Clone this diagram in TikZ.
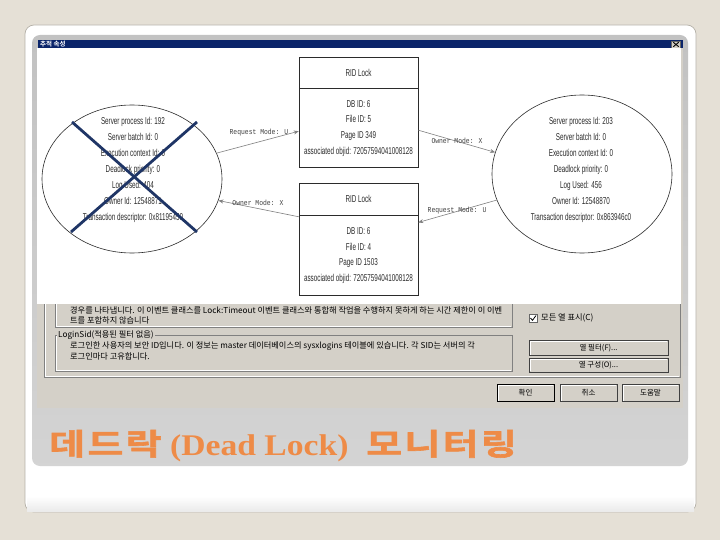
\documentclass[tikz,border=0pt]{standalone}
\usepackage{fontspec}
\usetikzlibrary{shapes.geometric,arrows.meta}
\newfontfamily\narrowfont[FakeStretch=0.63]{Liberation Sans}
\newfontfamily\monofont[FakeStretch=0.85]{Liberation Mono}
\newfontfamily\krfont{Noto Sans CJK KR}
\newfontfamily\krbold{Noto Sans CJK KR Bold}
\newfontfamily\krtitle[FakeStretch=1.3,LetterSpace=8,FakeBold=2]{Noto Sans CJK KR Bold}
\newfontfamily\serifb[FakeStretch=1.12]{Liberation Serif Bold}
\definecolor{bgbeige}{HTML}{E5E0D6}
\definecolor{cardedge}{HTML}{B5B1A8}
\definecolor{dlg}{HTML}{D4D0C8}
\definecolor{navybar}{HTML}{0A246A}
\definecolor{xnavy}{HTML}{1F3566}
\definecolor{inkc}{HTML}{2B2B2B}
\definecolor{connc}{HTML}{808080}
\definecolor{titleorange}{HTML}{EE8B47}
\tikzset{
  ell/.style={ellipse, draw=inkc, line width=0.6pt, inner sep=0pt},
  etext/.style={align=center, text=inkc, inner sep=0pt, font=\narrowfont\fontsize{10}{16}\selectfont},
  ebox/.style={draw=inkc, line width=0.6pt, minimum width=119pt, inner sep=0pt, align=center, text=inkc, font=\narrowfont\fontsize{10}{15.7}\selectfont},
  connector/.style={draw=connc, line width=0.6pt, -{Stealth[length=5pt,width=4pt]}},
  lab/.style={font=\monofont\fontsize{7.5}{8}\selectfont, text=black!75, inner sep=0pt},
  dtext/.style={anchor=west, inner sep=0pt, font=\krfont\fontsize{8.2}{9}\selectfont, text=black},
  etchdark/.style={draw=black!50, line width=0.6pt},
  etchlight/.style={draw=white, line width=0.6pt},
  winbtn/.style={draw=black!75, fill=dlg, line width=0.6pt, inner sep=0pt, font=\krfont\fontsize{7.5}{9}\selectfont,
    path picture={\draw[white, line width=1pt] ([xshift=1pt,yshift=1pt]path picture bounding box.south west) |- ([xshift=-1pt,yshift=-1pt]path picture bounding box.north east);}},
  slidetitle/.style={anchor=base west, inner sep=0pt, text=titleorange},
}
\begin{document}
\begin{tikzpicture}[x=1pt,y=-1pt]
\useasboundingbox (0,0) rectangle (720,540);
\fill[bgbeige] (0,0) rectangle (720,540);
% card
\draw[draw=cardedge, fill=white, line width=0.7pt, rounded corners=9] (25,25) rectangle (696,512);
\shade[top color=white, bottom color=black!8] (27,496) rectangle (694,511);
% panel
\shade[top color=black!24, bottom color=black!17, rounded corners=8] (32,35) rectangle (688,466);
% dialog body
\fill[dlg] (37,48) rectangle (683,408);
% title bar
\fill[navybar] (38,40) rectangle (683,48);
\node[anchor=west, text=white, inner sep=0pt, font=\krbold\fontsize{6.5}{7}\selectfont] (ttl) at (40,44) {추적 속성};
\node[draw=black!60, fill=dlg, minimum width=9pt, minimum height=7pt, inner sep=0pt] (xbtn) at (676,44.5) {};
\draw[black, line width=0.9pt] ([xshift=2pt,yshift=-1.5pt]xbtn.north west) -- ([xshift=-2pt,yshift=1.5pt]xbtn.south east);
\draw[black, line width=0.9pt] ([xshift=-2pt,yshift=-1.5pt]xbtn.north east) -- ([xshift=2pt,yshift=1.5pt]xbtn.south west);

% ---- dialog lower part ----
% outer frame
\draw[etchdark] (44,300) -- (44,377) -- (680,377) -- (680,300);
\draw[etchlight] (45,300) -- (45,376) -- (679,376);
% group 1
\draw[etchdark] (55,300) -- (55,327) -- (512,327) -- (512,300);
\draw[etchlight] (56,300) -- (56,326) -- (511,326);
\node[dtext] (d1) at (70,310) {경우를 나타냅니다. 이 이벤트 클래스를 Lock:Timeout 이벤트 클래스와 통합해 작업을 수행하지 못하게 하는 시간 제한이 이 이벤};
\node[dtext] (d2) at (70,320) {트를 포함하지 않습니다};
% group 2
\draw[etchdark] (55,335) rectangle (512,371);
\draw[etchlight] (56,336) -- (56,370) -- (511,370);
\node[dtext, fill=dlg, inner xsep=1pt] (g2) at (57,335) {LoginSid(적용된 필터 없음)};
\node[dtext] (d3) at (70,346) {로그인한 사용자의 보안 ID입니다. 이 정보는 master 데이터베이스의 sysxlogins 테이블에 있습니다. 각 SID는 서버의 각};
\node[dtext] (d4) at (70,356) {로그인마다 고유합니다.};
% checkbox
\draw[draw=black!60, fill=white, line width=0.6pt] (529,314) rectangle (537,322);
\draw[black, line width=0.8pt] (530.5,318) -- (532.5,320.3) -- (536,315.5);
\node[dtext] (cb) at (541,318) {모든 열 표시(C)};
% right buttons
\node[winbtn, minimum width=139pt, minimum height=15pt] (bf) at (598.5,348) {열 필터(F)...};
\node[winbtn, minimum width=139pt, minimum height=14pt] (bc) at (598.5,365) {열 구성(O)...};
% bottom buttons
\node[winbtn, draw=black, line width=1pt, minimum width=57pt, minimum height=17pt] (ok) at (525.5,393) {확인};
\node[winbtn, minimum width=57pt, minimum height=17pt] (cancel) at (588.5,393) {취소};
\node[winbtn, minimum width=57pt, minimum height=17pt] (help) at (650.5,393) {도움말};

% ---- diagram area ----
\fill[white] (37,48) rectangle (681,304);

\node[ell, minimum width=180pt, minimum height=148pt] (L) at (132,179) {};
\node[ell, minimum width=180pt, minimum height=158pt] (R) at (582,174) {};
\node[etext] (Ltxt) at (133,170) {Server process Id: 192\\Server batch Id: 0\\Execution context Id: 0\\Deadlock priority: 0\\Log Used: 404\\Owner Id: 12548871\\Transaction descriptor: 0x81195450};
\node[etext] (Rtxt) at (581,170) {Server process Id: 203\\Server batch Id: 0\\Execution context Id: 0\\Deadlock priority: 0\\Log Used: 456\\Owner Id: 12548870\\Transaction descriptor: 0x863946c0};

\node[ebox, minimum height=31pt] (H1) at (358.5,72.5) {RID Lock};
\node[ebox, minimum height=79pt, anchor=north] (B1) at (H1.south) {DB ID: 6\\File ID: 5\\Page ID 349\\associated objid: 72057594041008128};
\node[ebox, minimum height=32pt] (H2) at (358.5,199) {RID Lock};
\node[ebox, minimum height=80pt, anchor=north] (B2) at (H2.south) {DB ID: 6\\File ID: 4\\Page ID 1503\\associated objid: 72057594041008128};

\draw[connector] (L.17) -- (B1.183);
\draw[connector] (B1.-2) -- (R.166);
\draw[connector] (B2.147) -- (L.-14);
\draw[connector] (R.197) -- (B2.29);

\node[lab] (l1) at (259,133) {Request Mode: U};
\node[lab] (l2) at (457,141) {Owner Mode: X};
\node[lab] (l3) at (258,203) {Owner Mode: X};
\node[lab] (l4) at (457,211) {Request Mode: U};

% cross over the victim
\draw[xnavy, line width=2.8pt] (72,122) -- (197,232);
\draw[xnavy, line width=2.8pt] (197,122) -- (71,232);

% ---- slide title ----
\node[slidetitle, font=\krtitle\fontsize{30}{32}\selectfont] (t1) at (49,455) {데드락};
\node[slidetitle, font=\serifb\fontsize{30}{32}\selectfont] (t2) at (170,455) {(Dead Lock)};
\node[slidetitle, font=\krtitle\fontsize{30}{32}\selectfont] (t3) at (366,455) {모니터링};
\end{tikzpicture}
\end{document}
